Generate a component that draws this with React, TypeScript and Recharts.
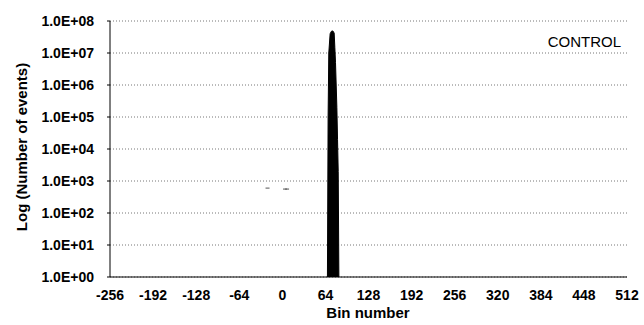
import React from 'react';
import { ComposedChart, Area, Scatter, XAxis, YAxis, CartesianGrid, Label } from 'recharts';

// x axis: bin number
const binTicks = [-256, -192, -128, -64, 0, 64, 128, 192, 256, 320, 384, 448, 512];
// y axis: decades of the event count
const countTicks = [1, 10, 100, 1e3, 1e4, 1e5, 1e6, 1e7, 1e8];
const countLabels = ['1.0E+00', '1.0E+01', '1.0E+02', '1.0E+03', '1.0E+04', '1.0E+05', '1.0E+06', '1.0E+07', '1.0E+08'];

// the spike of the control histogram
const spikeBins = [67, 68, 69, 71, 73, 75, 77, 78, 79, 80, 81, 82, 83, 84];
const spikeCounts = [1, 1e5, 1e7, 4e7, 4.8e7, 4.9e7, 4.2e7, 1.5e7, 5e6, 1e6, 2e5, 2e4, 2e3, 1];

// a few stray low counts
const strayBins = [-22, 4, 7];
const strayCounts = [600, 560, 560];

const FONT = 'Arial, "Liberation Sans", sans-serif';

const spikeData = spikeBins.map((bin, i) => ({ bin, count: spikeCounts[i] }));
const strayData = strayBins.map((bin, i) => ({ bin, count: strayCounts[i] }));

const labelFor = (v: number) => {
    const i = countTicks.indexOf(v);
    return i >= 0 ? countLabels[i] : '';
};

export default function App() {
    return (
        <div style={{ position: 'absolute', left: 0, top: 0, width: 644, height: 325, background: '#fff', fontFamily: FONT }}>
            <ComposedChart
                width={644}
                height={325}
                data={spikeData}
                margin={{ top: 21, right: 17, bottom: 18, left: 0 }}
            >
                <CartesianGrid vertical={false} stroke="#777" strokeDasharray="1 2" />
                <XAxis
                    dataKey="bin"
                    type="number"
                    domain={[-256, 512]}
                    ticks={binTicks}
                    interval={0}
                    height={30}
                    tickSize={0}
                    tickMargin={13}
                    axisLine={{ stroke: '#000' }}
                    tick={{ fill: '#000', fontSize: 14, fontWeight: 'bold', fontFamily: FONT }}
                >
                    <Label
                        content={() => (
                            <text x={368} y={318} textAnchor="middle" fill="#000" fontSize={15} fontWeight="bold" fontFamily={FONT}>
                                Bin number
                            </text>
                        )}
                    />
                </XAxis>
                <YAxis
                    dataKey="count"
                    type="number"
                    scale="log"
                    domain={[1, 1e8]}
                    allowDataOverflow
                    ticks={countTicks}
                    interval={0}
                    width={110}
                    tickSize={3}
                    tickMargin={13}
                    tickFormatter={labelFor}
                    axisLine={{ stroke: '#000' }}
                    tickLine={{ stroke: '#000' }}
                    tick={{ fill: '#000', fontSize: 14, fontWeight: 'bold', fontFamily: FONT }}
                >
                    <Label
                        content={() => (
                            <g>
                                <text
                                    x={21}
                                    y={147}
                                    transform="rotate(-90, 21, 147)"
                                    textAnchor="middle"
                                    dominantBaseline="central"
                                    fill="#000"
                                    fontSize={15}
                                    fontWeight="bold"
                                    fontFamily={FONT}
                                >
                                    Log (Number of events)
                                </text>
                                <text x={621} y={47} textAnchor="end" fill="#000" fontSize={15} fontFamily={FONT}>
                                    CONTROL
                                </text>
                            </g>
                        )}
                    />
                </YAxis>
                <Area
                    type="linear"
                    dataKey="count"
                    baseValue={1}
                    stroke="#000"
                    strokeWidth={1}
                    fill="#000"
                    fillOpacity={1}
                    isAnimationActive={false}
                />
                <Scatter
                    data={strayData}
                    dataKey="count"
                    fill="#555"
                    shape={(p: any) => <rect x={p.cx - 2} y={p.cy - 0.5} width={4} height={1} fill="#555" />}
                    isAnimationActive={false}
                />
            </ComposedChart>
        </div>
    );
}
